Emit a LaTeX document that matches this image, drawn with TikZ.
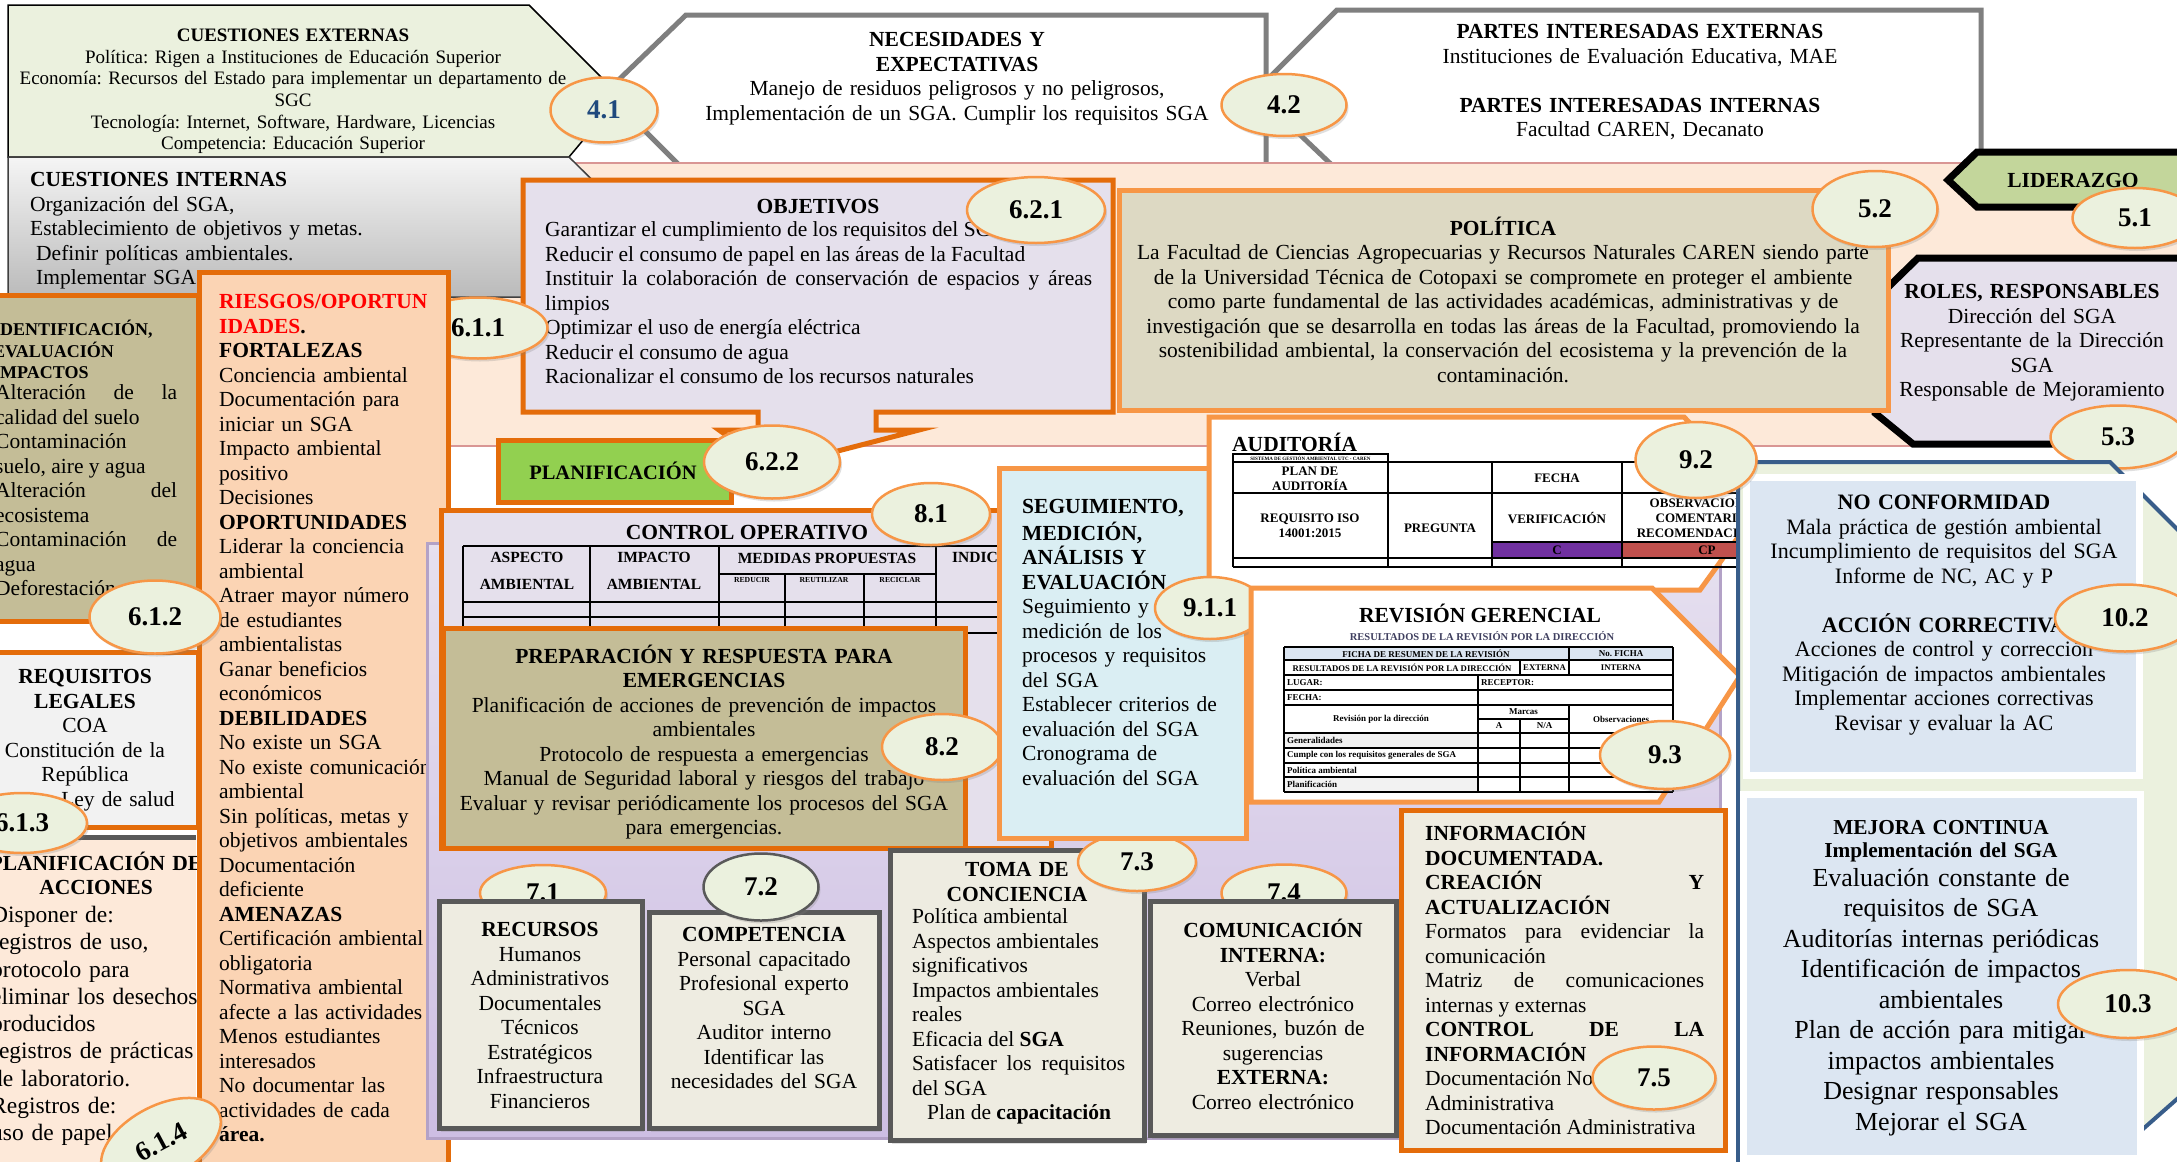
\documentclass[tikz,border=0pt]{standalone}
\usepackage{fontspec}
\setmainfont{Liberation Serif}
\usetikzlibrary{shapes.geometric,shadows}

\definecolor{orgdark}{HTML}{E46C0A}
\definecolor{orglight}{HTML}{F79646}
\definecolor{ellfill}{HTML}{EBF1DE}
\definecolor{lavfill}{HTML}{E5E0EC}
\definecolor{lavtop}{HTML}{E6E0EF}
\definecolor{lavbot}{HTML}{CDBEE3}
\definecolor{lavedge}{HTML}{B3A2C7}
\definecolor{tanfill}{HTML}{DDD9C3}
\definecolor{olivefill}{HTML}{C4BD97}
\definecolor{peachfill}{HTML}{FBD4B4}
\definecolor{pinkfill}{HTML}{FDE9D9}
\definecolor{pinkedge}{HTML}{D99694}
\definecolor{greyfill}{HTML}{F2F2F2}
\definecolor{aquafill}{HTML}{DAEEF3}
\definecolor{skyfill}{HTML}{DCE6F2}
\definecolor{ivoryfill}{HTML}{EEECE1}
\definecolor{planfill}{HTML}{92D050}
\definecolor{liderfill}{HTML}{C3D69B}
\definecolor{navyedge}{HTML}{385D8A}
\definecolor{darkgrey}{HTML}{595959}
\definecolor{midgrey}{HTML}{7F7F7F}
\definecolor{cellpurple}{HTML}{7030A0}
\definecolor{cellred}{HTML}{C0504D}
\definecolor{cellblue}{HTML}{DBE5F1}
\definecolor{numblue}{HTML}{1F497D}
\definecolor{subgrey}{HTML}{3F3F5F}

\tolerance=10000
\hyphenpenalty=10000

\begin{document}
\frenchspacing
\begin{tikzpicture}[x=1pt,y=-1pt]
    \tikzstyle{body}=[inner sep=0pt,font=\fontsize{21.5}{24.5}\selectfont,execute at begin node=\strut]
    \tikzstyle{smallbody}=[body,font=\fontsize{19}{21.6}\selectfont]
    \tikzstyle{bigbody}=[body,font=\fontsize{26}{30.5}\selectfont]
    \tikzstyle{lbl}=[inner sep=0pt,font=\fontsize{21.5}{24.5}\selectfont\bfseries]
    \tikzstyle{badge}=[ellipse,draw=orglight,line width=2.5pt,fill=ellfill,inner sep=0pt,
        font=\fontsize{27}{27}\selectfont\bfseries,
        drop shadow={shadow xshift=2pt,shadow yshift=-3pt,opacity=.25}]
    \tikzstyle{orgbox}=[draw=orgdark,line width=5pt]
    \tikzstyle{litebox}=[draw=orglight,line width=5pt]
    \tikzstyle{greybox}=[fill=ivoryfill,draw=darkgrey,line width=5pt,
        drop shadow={shadow xshift=2pt,shadow yshift=-4pt,opacity=.25}]
    \tikzstyle{inkbox}=[draw=black,line width=7pt]
    \tikzstyle{skybox}=[fill=skyfill,draw=white,line width=7pt,
        drop shadow={shadow xshift=2pt,shadow yshift=-4pt,opacity=.2}]
    \tikzstyle{tblline}=[draw=black,line width=1.3pt]
    \tikzstyle{cohead}=[inner sep=0pt,font=\fontsize{15.5}{17}\selectfont\bfseries]
    \tikzstyle{auditcell}=[inner sep=0pt,font=\fontsize{13}{15}\selectfont\bfseries,align=center]
    \tikzstyle{revcell}=[inner sep=0pt,font=\fontsize{9}{10}\selectfont\bfseries]

    \useasboundingbox (0,0) rectangle (2177,1162);
    \fill[white] (0,0) rectangle (2177,1162);
    \clip (0,0) rectangle (2177,1162);

    %% Needs and interested parties
    \filldraw[fill=white,draw=midgrey,line width=5pt] (686,15) -- (1266,15) -- (1266,168)
        -- (682,168) -- (606,92) -- cycle;
    \node[body,text width=560pt,align=center,anchor=north] (needs) at (957,29.5)
        {\textbf{NECESIDADES Y}\\\textbf{EXPECTATIVAS}\\
         Manejo de residuos peligrosos y no peligrosos,\\
         Implementación de un SGA. Cumplir los requisitos SGA};
    \filldraw[fill=white,draw=midgrey,line width=5pt] (1337,10) -- (1981,10) -- (1981,168)
        -- (1335,168) -- (1255,92) -- cycle;
    \node[body,text width=600pt,align=center,anchor=north] (parties) at (1640,21.5)
        {\textbf{PARTES INTERESADAS EXTERNAS}\\Instituciones de Evaluación Educativa, MAE\\[24.5pt]
         \textbf{PARTES INTERESADAS INTERNAS}\\Facultad CAREN, Decanato};

    %% Leadership band
    \filldraw[fill=pinkfill,draw=pinkedge,line width=1.5pt] (440,163) rectangle (2200,446);

    %% External and internal issues
    \filldraw[fill=ellfill,draw=black,line width=1.5pt] (8,5) -- (529,5) -- (620,96) -- (569,157)
        -- (8,157) -- cycle;
    \node[smallbody,text width=580pt,align=center,anchor=north] (extissues) at (293,26.3)
        {\textbf{CUESTIONES EXTERNAS}\\
         Política: Rigen a Instituciones de Educación Superior\\
         Economía: Recursos del Estado para implementar un departamento de\\
         SGC\\
         Tecnología: Internet, Software, Hardware, Licencias\\
         Competencia: Educación Superior};
    \shadedraw[top color=black!4,bottom color=black!27,draw=black!75,line width=1.5pt]
        (8,157) -- (569,157) -- (640,227) -- (569,297) -- (8,297) -- cycle;
    \node[body,text width=420pt,align=left,anchor=north west] (intissues) at (30,169.5)
        {\textbf{CUESTIONES INTERNAS}\\Organización del SGA,\\Establecimiento de objetivos y metas.\\
         \hspace*{6pt}Definir políticas ambientales.\\\hspace*{6pt}Implementar SGA};
    \node[badge,minimum width=107pt,minimum height=65pt,text=numblue] (b41) at (604,110) {4.1};
    \node[badge,minimum width=125pt,minimum height=62pt] (b42) at (1284,105) {4.2};

    %% Objectives callout
    \filldraw[fill=lavfill,orgbox] (523,180) -- (1113,180) -- (1113,412) -- (876,412) -- (876,430)
        -- (919,430) -- (772,468) -- (719,430) -- (758,430) -- (758,412) -- (523,412) -- cycle;
    \node[body,text width=300pt,align=center,anchor=north] (objtitle) at (818,196.5) {\textbf{OBJETIVOS}};
    \node[body,text width=547pt,align=justify,anchor=north west] (objlist) at (545,219.3)
        {Garantizar el cumplimiento de los requisitos del SGA\\
         Reducir el consumo de papel en las áreas de la Facultad\\
         Instituir la colaboración de conservación de espacios y áreas\linebreak limpios\\
         Optimizar el uso de energía eléctrica\\
         Reducir el consumo de agua\\
         Racionalizar el consumo de los recursos naturales};
    \node[badge,minimum width=138pt,minimum height=66pt] (b621) at (1036,210) {6.2.1};

    %% Policy, roles, leadership
    \filldraw[fill=lavfill,inkbox] (1918,258) -- (2200,258) -- (2200,444) -- (1913,444) -- (1875,413)
        -- (1875,300) -- cycle;
    \node[body,text width=300pt,align=center,anchor=north] (roles) at (2032,281.5)
        {\textbf{ROLES, RESPONSABLES}\\Dirección del SGA\\Representante de la Dirección\\SGA\\
         Responsable de Mejoramiento};
    \filldraw[fill=tanfill,litebox] (1119,190) rectangle (1888,410);
    \node[body,text width=780pt,align=center,anchor=north] (policy) at (1503,216.5)
        {\textbf{POLÍTICA}\\
         La Facultad de Ciencias Agropecuarias y Recursos Naturales CAREN siendo parte\\
         de la Universidad Técnica de Cotopaxi se compromete en proteger el ambiente\\
         como parte fundamental de las actividades académicas, administrativas y de\\
         investigación que se desarrolla en todas las áreas de la Facultad, promoviendo la\\
         sostenibilidad ambiental, la conservación del ecosistema y la prevención de la\\
         contaminación.};
    \node[badge,minimum width=125pt,minimum height=76pt] (b52) at (1875,209) {5.2};
    \filldraw[fill=liderfill,inkbox] (1948,180) -- (1977,152) -- (2200,152) -- (2200,207)
        -- (1977,207) -- cycle;
    \node[lbl] (leader) at (2073,180) {LIDERAZGO};
    \node[badge,minimum width=125pt,minimum height=60pt] (b51) at (2135,218) {5.1};
    \node[badge,minimum width=135pt,minimum height=63pt] (b53) at (2118,437) {5.3};

    %% Planning: risks and opportunities
    \node[badge,minimum width=139pt,minimum height=61pt] (b611) at (478,328) {6.1.1};
    \filldraw[fill=olivefill,orgbox] (-20,295) rectangle (198,621);
    \node[inner sep=0pt,font=\fontsize{18}{20.5}\selectfont\bfseries,execute at begin node=\strut,
        text width=220pt,align=left,anchor=north west] (impttl) at (-7,319.7)
        {IDENTIFICACIÓN,\\EVALUACIÓN\\IMPACTOS};
    \node[body,text width=182pt,align=justify,anchor=north west] (implist) at (-5,382.3)
        {Alteración de la\linebreak calidad del suelo\\Contaminación\\suelo, aire y agua\\
         Alteración del\linebreak ecosistema\\Contaminación de\linebreak agua\\Deforestación};
    \filldraw[fill=greyfill,orgbox] (-20,652) rectangle (198,827);
    \node[body,text width=200pt,align=center,anchor=north] (legal) at (85,666.5)
        {\textbf{REQUISITOS}\\\textbf{LEGALES}\\COA\\Constitución de la\\República\\
         \hspace*{66pt}Ley de salud};
    \fill[pinkfill] (-20,837) rectangle (196,1190);
    \draw[darkgrey,line width=5pt] (-20,837) -- (196,837);
    \node[body,text width=260pt,align=center,anchor=north] (acttitle) at (96,851.5)
        {\textbf{PLANIFICACIÓN DE}\\\textbf{ACCIONES}};
    \node[body,font=\fontsize{23.5}{27.3}\selectfont,text width=220pt,align=left,anchor=north west]
        (actlist) at (-9,903.1)
        {Disponer de:\\registros de uso,\\protocolo para\\eliminar los desechos\\producidos\\
         registros de prácticas\\de laboratorio.\\Registros de:\\uso de papel};
    \filldraw[fill=peachfill,orgbox] (199,272) rectangle (448,1190);
    \node[body,text width=230pt,align=left,anchor=north west] (risks) at (219,291.5)
        {\textcolor{red}{\textbf{RIESGOS/OPORTUN}}\\\textcolor{red}{\textbf{IDADES}}\textbf{.}\\
         \textbf{FORTALEZAS}\\Conciencia ambiental\\Documentación para\\iniciar un SGA\\
         Impacto ambiental\\positivo\\Decisiones\\
         \textbf{OPORTUNIDADES}\\Liderar la conciencia\\ambiental\\Atraer mayor número\\
         de estudiantes\\ambientalistas\\Ganar beneficios\\económicos\\
         \textbf{DEBILIDADES}\\No existe un SGA\\No existe comunicación\\ambiental\\
         Sin políticas, metas y\\objetivos ambientales\\Documentación\\deficiente\\
         \textbf{AMENAZAS}\\Certificación ambiental\\obligatoria\\Normativa ambiental\\
         afecte a las actividades\\Menos estudiantes\\interesados\\No documentar las\\
         actividades de cada\\\textbf{área.}};
    \node[badge,minimum width=131pt,minimum height=73pt] (b612) at (155,617) {6.1.2};
    \node[badge,minimum width=130pt,minimum height=60pt] (b613) at (22,823) {6.1.3};
    \node[badge,minimum width=130pt,minimum height=72pt,rotate=28] (b614) at (161,1142) {6.1.4};

    %% Planning label
    \filldraw[fill=planfill,orgbox] (498,440) rectangle (731,502);
    \node[lbl,font=\fontsize{20.5}{24}\selectfont\bfseries] (planlbl) at (613,471) {PLANIFICACIÓN};
    \node[badge,minimum width=136pt,minimum height=73pt] (b622) at (772,462) {6.2.2};

    %% Operation
    \shadedraw[top color=lavtop,bottom color=lavbot,draw=lavedge,line width=3pt]
        (427,543) rectangle (1720,1138);
    \filldraw[fill=lavfill,orgbox] (441,510) rectangle (1051,848);
    \node[lbl] (ctrltitle) at (747,533) {CONTROL OPERATIVO};
    \draw[tblline] (463,546) -- (1000,546) (463,602) -- (1000,602) (463,617) -- (1000,617)
        (463,633) -- (1000,633) (719,574) -- (936,574)
        (463,546) -- (463,640) (590,546) -- (590,640) (719,546) -- (719,640) (936,546) -- (936,640)
        (785,574) -- (785,640) (864,574) -- (864,640);
    \node[cohead] (asp1) at (527,557) {ASPECTO};
    \node[cohead] (asp2) at (527,584) {AMBIENTAL};
    \node[cohead] (imp1) at (654,557) {IMPACTO};
    \node[cohead] (imp2) at (654,584) {AMBIENTAL};
    \node[cohead] (measures) at (827,558) {MEDIDAS PROPUESTAS};
    \node[cohead,anchor=west] (indic) at (952,557) {INDICADORES};
    \foreach \nm/\x/\t in {reduce/752/REDUCIR,reuse/824/REUTILIZAR,recycle/900/RECICLAR}
        \node[inner sep=0pt,font=\fontsize{7.7}{8}\selectfont\bfseries] (\nm) at (\x,580) {\t};
    \node[badge,minimum width=118pt,minimum height=62pt] (b81) at (931,514) {8.1};
    \filldraw[fill=olivefill,orgbox] (443,628) rectangle (965,848);
    \node[body,text width=520pt,align=center,anchor=north] (emerg) at (704,644.5)
        {\textbf{PREPARACIÓN Y RESPUESTA PARA}\\\textbf{EMERGENCIAS}\\
         Planificación de acciones de prevención de impactos\\ambientales\\
         Protocolo de respuesta a emergencias\\
         Manual de Seguridad laboral y riesgos del trabajo\\
         Evaluar y revisar periódicamente los procesos del SGA\\
         para emergencias.};
    \node[badge,minimum width=120pt,minimum height=66pt] (b82) at (942,747) {8.2};

    %% Support
    \node[badge,minimum width=126pt,minimum height=56pt] (b71) at (543,893) {7.1};
    \filldraw[greybox] (439,901) rectangle (642,1128);
    \node[body,text width=200pt,align=center,anchor=north] (resources) at (540,919.3)
        {\textbf{RECURSOS}\\Humanos\\Administrativos\\Documentales\\Técnicos\\Estratégicos\\
         Infraestructura\\Financieros};
    \filldraw[greybox] (649,912) rectangle (879,1128);
    \node[body,text width=230pt,align=center,anchor=north] (skills) at (764,924.3)
        {\textbf{COMPETENCIA}\\Personal capacitado\\Profesional experto\\SGA\\Auditor interno\\
         Identificar las\\necesidades del SGA};
    \node[badge,draw=darkgrey,minimum width=115pt,minimum height=67pt] (b72) at (761,887) {7.2};
    \filldraw[greybox] (890,850) rectangle (1144,1140);
    \node[body,text width=250pt,align=center,anchor=north] (awaretitle) at (1017,859.5)
        {\textbf{TOMA DE}\\\textbf{CONCIENCIA}};
    \node[body,text width=213pt,align=justify,anchor=north west] (awarelist) at (912,906.3)
        {Política ambiental\\Aspectos ambientales\\significativos\\Impactos ambientales\\reales\\
         Eficacia del \textbf{SGA}\\Satisfacer los requisitos\linebreak del SGA\\
         \hspace*{15pt}Plan de \textbf{capacitación}};
    \node[badge,minimum width=118pt,minimum height=58pt] (b73) at (1137,862) {7.3};
    \node[badge,minimum width=125pt,minimum height=57pt] (b74) at (1284,893) {7.4};
    \filldraw[greybox] (1150,901) rectangle (1396,1135);
    \node[body,text width=245pt,align=center,anchor=north] (comms) at (1273,919.3)
        {\textbf{COMUNICACIÓN}\\\textbf{INTERNA:}\\Verbal\\Correo electrónico\\
         Reuniones, buzón de\\sugerencias\\\textbf{EXTERNA:}\\Correo electrónico};
    \filldraw[fill=ivoryfill,orgbox] (1401,810) rectangle (1725,1150);
    \node[body,text width=279pt,align=justify,anchor=north west] (docinfo) at (1425,822.3)
        {\textbf{INFORMACIÓN}\\\textbf{DOCUMENTADA.}\\\textbf{CREACIÓN\hfill Y}\\
         \textbf{ACTUALIZACIÓN}\\Formatos para evidenciar la\linebreak comunicación\\
         Matriz de comunicaciones\linebreak internas y externas\\
         \textbf{CONTROL DE LA}\linebreak \textbf{INFORMACIÓN}\\
         Documentación No\\Administrativa\\Documentación Administrativa};
    \node[badge,minimum width=123pt,minimum height=63pt] (b75) at (1654,1078) {7.5};

    %% Monitoring
    \filldraw[fill=aquafill,litebox] (999,468) rectangle (1246,838);
    \node[body,text width=220pt,align=left,anchor=north west] (monitor) at (1022,496.3)
        {\textbf{SEGUIMIENTO,}\\\textbf{MEDICIÓN,}\\\textbf{ANÁLISIS Y}\\\textbf{EVALUACIÓN}\\
         Seguimiento y\\medición de los\\procesos y requisitos\\del SGA\\
         Establecer criterios de\\evaluación del SGA\\Cronograma de\\evaluación del SGA};

    %% Audit
    \filldraw[fill=white,litebox] (1209,417) -- (1684,417) -- (1765,500) -- (1700,590)
        -- (1209,590) -- cycle;
    \node[lbl,anchor=west] (audittitle) at (1232,442) {AUDITORÍA};
    \draw[tblline] (1233,454) rectangle (1388,462);
    \node[inner sep=0pt,font=\fontsize{5}{6}\selectfont\bfseries] (auditsys) at (1310.5,458.5)
        {SISTEMA DE GESTIÓN AMBIENTAL UTC - CAREN};
    \fill[cellpurple] (1492,542) rectangle (1622,558);
    \fill[cellred] (1622,542) rectangle (1736,558);
    \draw[tblline] (1233,462) -- (1736,462) (1233,493) -- (1736,493) (1492,542) -- (1736,542)
        (1233,558) -- (1736,558) (1233,567) -- (1736,567)
        (1233,462) -- (1233,567) (1388,462) -- (1388,567) (1492,462) -- (1492,567)
        (1622,462) -- (1622,567);
    \node[auditcell] (plan) at (1310,479) {PLAN DE\\AUDITORÍA};
    \node[auditcell] (date) at (1557,478) {FECHA};
    \node[auditcell] (isoreq) at (1310,526) {REQUISITO ISO\\14001:2015};
    \node[auditcell] (question) at (1440,528) {PREGUNTA};
    \node[auditcell] (verify) at (1557,518) {VERIFICACIÓN};
    \node[auditcell] (cmark) at (1557,550) {C};
    \node[auditcell] (remarks) at (1705,518) {OBSERVACIONES\\COMENTARIOS\\RECOMENDACIONES};
    \node[auditcell] (cpmark) at (1707,550) {CP};
    \node[badge,minimum width=110pt,minimum height=62pt] (b911) at (1210,608) {9.1.1};

    %% Management review
    \filldraw[fill=white,litebox] (1251,588) -- (1652,588) -- (1740,676) -- (1659,802)
        -- (1251,802) -- cycle;
    \node[lbl] (revtitle) at (1480,613) {REVISIÓN GERENCIAL};
    \node[inner sep=0pt,font=\fontsize{10.5}{12}\selectfont\bfseries,text=subgrey] (revsub)
        at (1482,636) {RESULTADOS DE LA REVISIÓN POR LA DIRECCIÓN};
    \fill[cellblue] (1284,647) rectangle (1673,660);
    \fill[greyfill] (1284,733) rectangle (1478,748);
    \fill[greyfill] (1284,777) rectangle (1478,792);
    \foreach \y in {647,660,675,690,705,733,748,763,777,792}
        \draw[tblline] (1284,\y) -- (1673,\y);
    \draw[tblline] (1478,719) -- (1569,719)
        (1284,647) -- (1284,792) (1673,647) -- (1673,792)
        (1569,647) -- (1569,675) (1569,705) -- (1569,792)
        (1520,660) -- (1520,675) (1520,719) -- (1520,792) (1478,675) -- (1478,792);
    \node[revcell] (rvhead) at (1426,653.5) {FICHA DE RESUMEN DE LA REVISIÓN};
    \node[revcell] (rvnum) at (1621,653.5) {No. FICHA};
    \node[revcell,font=\fontsize{8.7}{10}\selectfont\bfseries] (rvres) at (1402,667.5)
        {RESULTADOS DE LA REVISIÓN POR LA DIRECCIÓN};
    \node[revcell,font=\fontsize{8.7}{10}\selectfont\bfseries] (rvext) at (1544.5,667.5) {EXTERNA};
    \node[revcell,font=\fontsize{8.7}{10}\selectfont\bfseries] (rvint) at (1621,667.5) {INTERNA};
    \node[revcell,anchor=west] (rvrec) at (1481,682.5) {RECEPTOR:};
    \node[revcell] (rvdir) at (1381,719) {Revisión por la dirección};
    \node[revcell] (rvmarks) at (1523.5,712) {Marcas};
    \node[revcell] (rva) at (1499,726) {A};
    \node[revcell] (rvna) at (1544.5,726) {N/A};
    \node[revcell] (rvobs) at (1621,719) {Observaciones};
    \foreach \y/\t [count=\i] in {682.5/LUGAR:,697.5/FECHA:,740.5/Generalidades,
        755.5/Cumple con los requisitos generales de SGA,770/Política ambiental,784.5/Planificación}
        \node[revcell,anchor=west] (rvrow\i) at (1287,\y) {\t};
    \node[badge,minimum width=130pt,minimum height=68pt] (b93) at (1665,755) {9.3};

    %% Improvement
    \filldraw[fill=ellfill,draw=navyedge,line width=4pt] (1738,462) -- (2110,462) -- (2260,612)
        -- (2260,1026) -- (2085,1180) -- (1738,1180) -- cycle;
    \filldraw[skybox] (1746,477) rectangle (2139,775);
    \node[body,font=\fontsize{22}{24.5}\selectfont,text width=390pt,align=center,anchor=north]
        (nonconf) at (1944,492.5)
        {\textbf{NO CONFORMIDAD}\\Mala práctica de gestión ambiental\\
         Incumplimiento de requisitos del SGA\\Informe de NC, AC y P\\[24.5pt]
         \textbf{ACCIÓN CORRECTIVA}\\Acciones de control y corrección\\
         Mitigación de impactos ambientales\\Implementar acciones correctivas\\
         Revisar y evaluar la AC};
    \filldraw[skybox] (1743,794) rectangle (2140,1158);
    \node[body,font=\fontsize{21.3}{23}\selectfont,text width=390pt,align=center,anchor=north]
        (improvettl) at (1941,818) {\textbf{MEJORA CONTINUA}\\\textbf{Implementación del SGA}};
    \node[bigbody,text width=390pt,align=center,anchor=north] (improvelist) at (1941,864.5)
        {Evaluación constante de\\requisitos de SGA\\Auditorías internas periódicas\\
         Identificación de impactos\\ambientales\\Plan de acción para mitigar\\
         impactos ambientales\\Designar responsables\\Mejorar el SGA};
    \node[badge,minimum width=121pt,minimum height=76pt] (b92) at (1696,460) {9.2};
    \node[badge,minimum width=140pt,minimum height=67pt] (b102) at (2125,618) {10.2};
    \node[badge,minimum width=140pt,minimum height=68pt] (b103) at (2128,1004) {10.3};
\end{tikzpicture}
\end{document}
